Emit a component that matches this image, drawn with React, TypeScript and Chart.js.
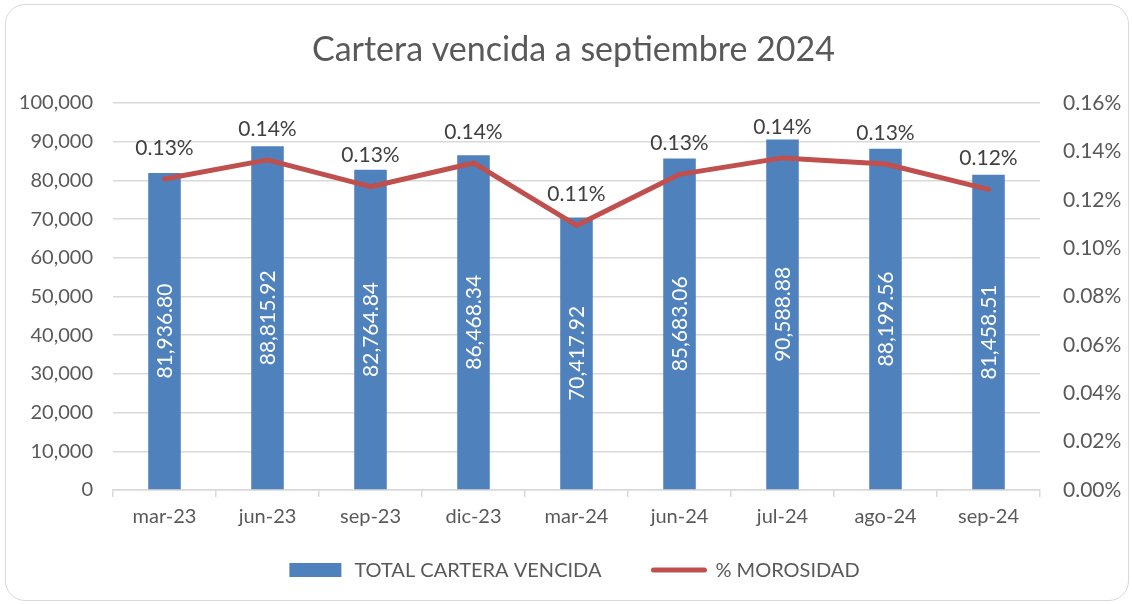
import React, { useEffect, useRef } from "react";
import { Chart, registerables } from "chart.js";

Chart.register(...registerables);

const FONT = 'Lato, "Open Sans", sans-serif';

const chartTitle = "Cartera vencida a septiembre 2024";
const categories = ["mar-23", "jun-23", "sep-23", "dic-23", "mar-24", "jun-24", "jul-24", "ago-24", "sep-24"];
const carteraVencida = [81936.8, 88815.92, 82764.84, 86468.34, 70417.92, 85683.06, 90588.88, 88199.56, 81458.51];
const morosidad = [0.1286, 0.1365, 0.1254, 0.1352, 0.1094, 0.1305, 0.1373, 0.1348, 0.1243];
const seriesNames = ["TOTAL CARTERA VENCIDA", "% MOROSIDAD"];
const leftAxis = { min: 0, max: 100000, step: 10000 };
const rightAxis = { min: 0, max: 0.16, step: 0.02 };

const BAR_COLOR = "#4F81BD";
const LINE_COLOR = "#C0504D";
const TEXT = "#595959";
const GRID = "#d9d9d9";

const fmtMoney = (v: number) =>
  v.toLocaleString("en-US", { minimumFractionDigits: 2, maximumFractionDigits: 2 });

const decorPlugin = {
  id: "decor",
  afterDraw(chart: any) {
    const ctx = chart.ctx as CanvasRenderingContext2D;
    const area = chart.chartArea;
    ctx.save();
    // title
    ctx.font = `34px ${FONT}`;
    ctx.fillStyle = TEXT;
    ctx.textAlign = "center";
    ctx.textBaseline = "alphabetic";
    ctx.fillText(chartTitle, (area.left + area.right) / 2 - 3, 61);

    // legend
    ctx.font = `20px ${FONT}`;
    const t1 = ctx.measureText(seriesNames[0]).width;
    const t2 = ctx.measureText(seriesNames[1]).width;
    const sw1 = 52, g1 = 13, gap = 50, sw2 = 55, g2 = 9;
    const total = sw1 + g1 + t1 + gap + sw2 + g2 + t2;
    let x = (area.left + area.right) / 2 - 2 - total / 2;
    const cy = 570;
    ctx.fillStyle = BAR_COLOR;
    ctx.fillRect(x, cy - 7, sw1, 14);
    x += sw1 + g1;
    ctx.fillStyle = TEXT;
    ctx.textAlign = "left";
    ctx.textBaseline = "middle";
    ctx.fillText(seriesNames[0], x, cy + 1);
    x += t1 + gap;
    ctx.strokeStyle = LINE_COLOR;
    ctx.lineWidth = 5;
    ctx.lineCap = "round";
    ctx.beginPath();
    ctx.moveTo(x + 2, cy);
    ctx.lineTo(x + sw2 - 2, cy);
    ctx.stroke();
    x += sw2 + g2;
    ctx.fillStyle = TEXT;
    ctx.fillText(seriesNames[1], x, cy + 1);
    ctx.restore();
  },
};

const labelsPlugin = {
  id: "valueLabels",
  afterDatasetsDraw(chart: any) {
    const ctx = chart.ctx as CanvasRenderingContext2D;
    ctx.save();
    ctx.font = `21px ${FONT}`;
    ctx.textAlign = "center";
    ctx.textBaseline = "middle";
    const barMeta = chart.getDatasetMeta(0);
    ctx.fillStyle = "#ffffff";
    barMeta.data.forEach((bar: any, i: number) => {
      const p = bar.getProps(["x", "y", "base"], true);
      ctx.save();
      ctx.translate(p.x + 1, (p.y + p.base) / 2);
      ctx.rotate(-Math.PI / 2);
      ctx.fillText(fmtMoney(carteraVencida[i]), 0, 0);
      ctx.restore();
    });
    const lineMeta = chart.getDatasetMeta(1);
    ctx.font = `21px ${FONT}`;
    ctx.fillStyle = "#404040";
    lineMeta.data.forEach((pt: any, i: number) => {
      ctx.fillText(morosidad[i].toFixed(2) + "%", pt.x, pt.y - 31);
    });
    ctx.restore();
  },
};

export default function App() {
  const ref = useRef<HTMLCanvasElement | null>(null);

  useEffect(() => {
    if (!ref.current) return;
    const chart = new Chart(ref.current, {
      type: "bar",
      data: {
        labels: categories,
        datasets: [
          {
            type: "bar",
            label: seriesNames[0],
            data: carteraVencida,
            backgroundColor: BAR_COLOR,
            yAxisID: "y",
            categoryPercentage: 1,
            barPercentage: 0.316,
            order: 1,
          },
          {
            type: "line",
            label: seriesNames[1],
            data: morosidad,
            borderColor: LINE_COLOR,
            backgroundColor: LINE_COLOR,
            borderWidth: 5,
            pointRadius: 0,
            borderCapStyle: "round",
            borderJoinStyle: "round",
            tension: 0,
            yAxisID: "y1",
            order: 0,
          },
        ],
      } as any,
      options: {
        responsive: false,
        animation: false,
        devicePixelRatio: 1,
        layout: { padding: { top: 103, bottom: 64, left: 0, right: 0 } },
        plugins: {
          legend: { display: false },
          title: { display: false },
          tooltip: { enabled: false },
        },
        scales: {
          x: {
            offset: true,
            grid: {
              offset: true,
              drawOnChartArea: false,
              drawTicks: true,
              tickLength: 7,
              color: GRID,
              lineWidth: 1.5,
            },
            border: { display: true, color: GRID, width: 1.5 },
            ticks: { color: TEXT, font: { family: FONT, size: 20 }, padding: 8, maxRotation: 0 },
            afterFit: (s: any) => {
              s.height = 50;
            },
          },
          y: {
            position: "left",
            min: leftAxis.min,
            max: leftAxis.max,
            grid: { color: GRID, lineWidth: 1.5, drawTicks: false },
            border: { display: false },
            ticks: {
              stepSize: leftAxis.step,
              color: TEXT,
              font: { family: FONT, size: 20 },
              padding: 20,
              callback: (v: any) => Number(v).toLocaleString("en-US"),
            },
            afterFit: (s: any) => {
              s.width = 113;
            },
          },
          y1: {
            position: "right",
            min: rightAxis.min,
            max: rightAxis.max,
            grid: { display: false, drawOnChartArea: false, drawTicks: false },
            border: { display: false },
            ticks: {
              stepSize: rightAxis.step,
              color: TEXT,
              font: { family: FONT, size: 21 },
              padding: 23,
              callback: (v: any) => Number(v).toFixed(2) + "%",
            },
            afterFit: (s: any) => {
              s.width = 92;
            },
          },
        },
      } as any,
      plugins: [labelsPlugin, decorPlugin],
    });
    return () => chart.destroy();
  }, []);

  return (
    <div style={{ position: "fixed", left: 0, top: 0, width: 1132, height: 604, background: "#fff" }}>
      <div
        style={{
          position: "absolute",
          left: 5,
          top: 4,
          width: 1124,
          height: 597,
          border: "1.5px solid #d9d9d9",
          borderRadius: 20,
          boxSizing: "border-box",
        }}
      />
      <canvas ref={ref} width={1132} height={604} style={{ position: "absolute", left: 0, top: 0 }} />
    </div>
  );
}
